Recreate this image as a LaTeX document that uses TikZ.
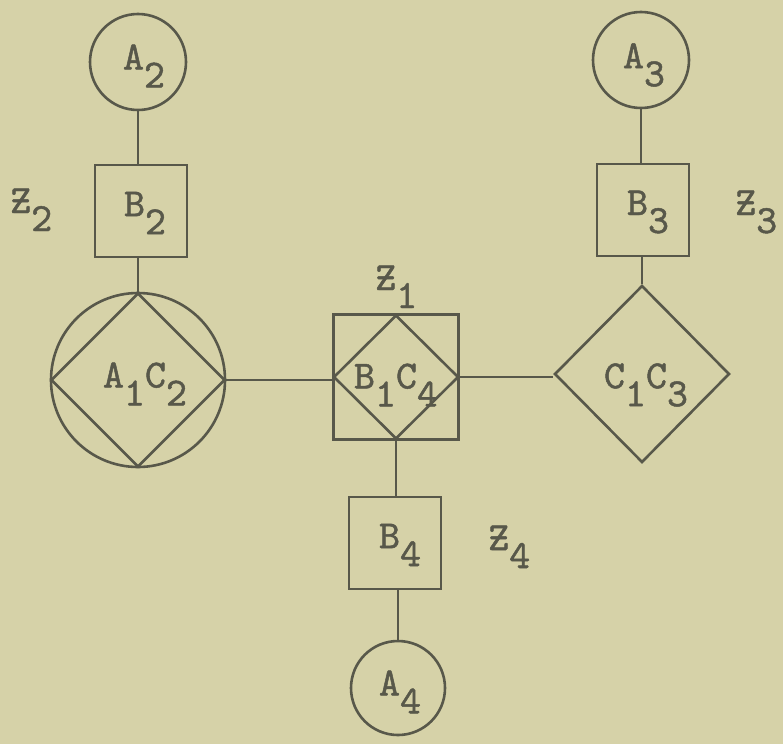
\documentclass[tikz,border=0pt]{standalone}
\usepackage{fontspec}
\usetikzlibrary{shapes.geometric}
\definecolor{paper}{RGB}{214,210,168}
\definecolor{ink}{RGB}{88,88,74}
% slightly inked-up typewriter face
\newfontfamily\typer{lmmono10-regular.otf}[FakeBold=1.2]
% typewriter-style subscript: same size, dropped below the line
\newcommand{\dropped}[1]{\raisebox{-18pt}{#1}}
% barred Z, struck over with a hyphen as on a typewriter
\newcommand{\barZ}{\rlap{Z}-}
\begin{document}
\begin{tikzpicture}[x=1pt,y=-1pt,
  wire/.style={draw=ink,line width=2.6pt},
  ring/.style={circle,draw=ink,line width=2.6pt,minimum size=#1,inner sep=0pt},
  box/.style={rectangle,draw=ink,line width=2.6pt,minimum width=#1,minimum height=#1,inner sep=0pt},
  rhomb/.style 2 args={diamond,draw=ink,line width=2.6pt,minimum width=#1,minimum height=#2,inner sep=0pt},
  tag/.style={inner sep=0pt,text=ink,font=\typer\fontsize{40}{42}\selectfont},
  zlabel/.style={inner sep=0pt,anchor=base west,text=ink,font=\typer\fontsize{40}{42}\selectfont}]
\fill[paper] (0,0) rectangle (783,744);
\useasboundingbox (0,0) rectangle (783,744);

% left branch
\node[ring=96] (A2) at (138,62) {};
\node[tag] (tA2) at (144,66) {A\dropped{2}};
\node[box=92] (B2) at (141,211) {};
\node[tag] (tB2) at (145,213) {B\dropped{2}};
\node[ring=174] (A1C2c) at (138,380) {};
\node[rhomb={174}{174}] (A1C2d) at (138,380) {};
\node[tag] (tA1C2) at (145,384) {A\dropped{1}C\dropped{2}};

% centre junction
\node[box=125] (B1C4b) at (396,377) {};
\node[rhomb={125}{124}] (B1C4d) at (396,377) {};
\node[tag] (tB1C4) at (396,385) {B\dropped{1}C\dropped{4}};

% right branch
\node[ring=96] (A3) at (641,60) {};
\node[tag] (tA3) at (644,65) {A\dropped{3}};
\node[box=92] (B3) at (643,210) {};
\node[tag] (tB3) at (648,212) {B\dropped{3}};
\node[rhomb={175}{177}] (C1C3) at (642,374) {};
\node[tag] (tC1C3) at (646,385) {C\dropped{1}C\dropped{3}};

% lower branch
\node[box=92] (B4) at (395,543) {};
\node[tag] (tB4) at (400,545) {B\dropped{4}};
\node[ring=94] (A4) at (398,688) {};
\node[tag] (tA4) at (400,692) {A\dropped{4}};

% connectors
\draw[wire] (A2.south) -- (A2.south |- B2.north);
\draw[wire] (A2.south |- B2.south) -- (A1C2c.north);
\draw[wire] (A1C2c.east) -- (A1C2c.east -| B1C4b.west);
\draw[wire] (B1C4b.east) -- (B1C4b.east -| C1C3.west);
\draw[wire] (C1C3.north) -- (C1C3.north |- B3.south);
\draw[wire] (A3.south) -- (A3.south |- B3.north);
\draw[wire] (B1C4b.south) -- (B1C4b.south |- B4.north);
\draw[wire] (A4.north) -- (A4.north |- B4.south);

% branch labels
\node[zlabel] (Z1) at (375,290) {\barZ\dropped{1}};
\node[zlabel] (Z2) at (10,213) {\barZ\dropped{2}};
\node[zlabel] (Z3) at (735,215) {\barZ\dropped{3}};
\node[zlabel] (Z4) at (488,550) {\barZ\dropped{4}};
\end{tikzpicture}
\end{document}
